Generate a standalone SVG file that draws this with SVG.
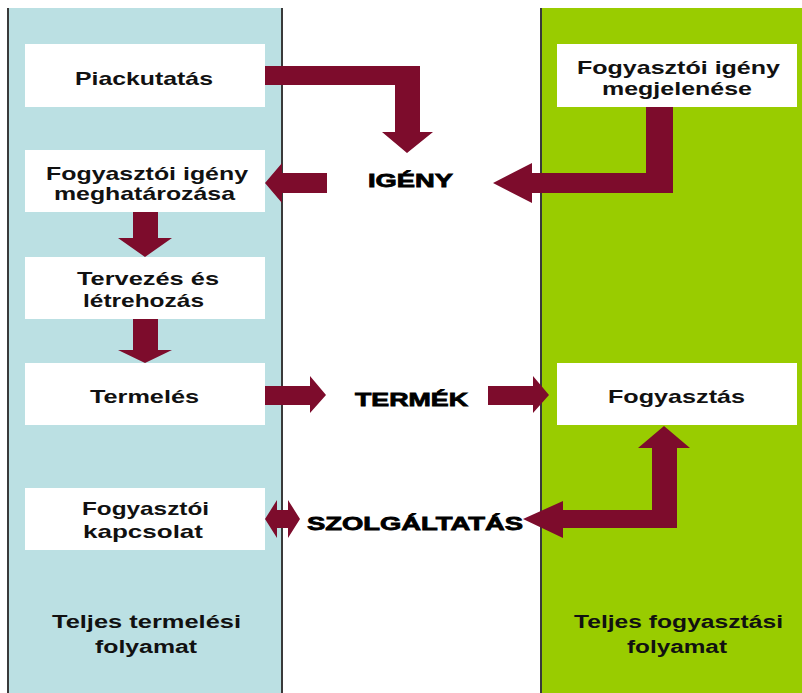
<svg xmlns="http://www.w3.org/2000/svg" width="802" height="693" viewBox="0 0 802 693">
<style>
.t{font-family:"Liberation Sans",Arial,sans-serif;font-weight:bold;font-size:19px;fill:#111}
.b{font-family:"Liberation Sans",Arial,sans-serif;font-weight:bold;font-size:18px;fill:#111}
.h{font-family:"Liberation Sans",Arial,sans-serif;font-weight:bold;font-size:19px;fill:#000;stroke:#000;stroke-width:0.8}
.box{fill:#fff}
.arr{fill:#7D0C2C}
.edge{stroke:#3a3a3a;stroke-width:2}
</style>
<rect width="802" height="693" fill="#fff"/>
<g id="panels">
<rect x="8" y="8" width="274" height="685" fill="#BBE0E3"/>
<rect x="541" y="8" width="261" height="685" fill="#99CC00"/>
<line class="edge" x1="8" y1="8" x2="8" y2="693"/>
<line class="edge" x1="282" y1="8" x2="282" y2="693"/>
<line class="edge" x1="541" y1="8" x2="541" y2="693"/>
</g>
<g id="piackutatas"><rect class="box" x="25" y="44" width="240" height="63"/>
<text class="t" x="75" y="85" textLength="138" lengthAdjust="spacingAndGlyphs">Piackutatás</text></g>
<g id="igeny-meghatarozasa"><rect class="box" x="25" y="150" width="240" height="62"/>
<text class="t" x="46" y="180" textLength="202" lengthAdjust="spacingAndGlyphs">Fogyasztói igény</text>
<text class="t" x="54" y="200" textLength="181" lengthAdjust="spacingAndGlyphs">meghatározása</text></g>
<g id="tervezes"><rect class="box" x="25" y="257" width="240" height="62"/>
<text class="t" x="77" y="285" textLength="142" lengthAdjust="spacingAndGlyphs">Tervezés és</text>
<text class="t" x="83" y="307" textLength="121" lengthAdjust="spacingAndGlyphs">létrehozás</text></g>
<g id="termeles"><rect class="box" x="25" y="363" width="240" height="62"/>
<text class="t" x="90" y="403" textLength="109" lengthAdjust="spacingAndGlyphs">Termelés</text></g>
<g id="kapcsolat"><rect class="box" x="25" y="488" width="240" height="62"/>
<text class="t" x="82" y="515" textLength="127" lengthAdjust="spacingAndGlyphs">Fogyasztói</text>
<text class="t" x="83" y="538" textLength="120" lengthAdjust="spacingAndGlyphs">kapcsolat</text></g>
<g id="igeny-megjelenese"><rect class="box" x="557" y="44" width="240" height="63"/>
<text class="t" x="577" y="74" textLength="203" lengthAdjust="spacingAndGlyphs">Fogyasztói igény</text>
<text class="t" x="602" y="95" textLength="150" lengthAdjust="spacingAndGlyphs">megjelenése</text></g>
<g id="fogyasztas"><rect class="box" x="557" y="363" width="240" height="62"/>
<text class="t" x="608" y="403" textLength="137" lengthAdjust="spacingAndGlyphs">Fogyasztás</text></g>
<g id="igeny"><text class="h" x="368" y="187" textLength="85" lengthAdjust="spacingAndGlyphs">IGÉNY</text></g>
<g id="termek"><text class="h" x="355" y="406" textLength="113" lengthAdjust="spacingAndGlyphs">TERMÉK</text></g>
<g id="szolgaltatas"><text class="h" x="307" y="530" textLength="216" lengthAdjust="spacingAndGlyphs">SZOLGÁLTATÁS</text></g>
<g id="label-termelesi"><text class="b" x="52" y="628" textLength="189" lengthAdjust="spacingAndGlyphs">Teljes termelési</text>
<text class="b" x="95" y="653" textLength="102" lengthAdjust="spacingAndGlyphs">folyamat</text></g>
<g id="label-fogyasztasi"><text class="b" x="574" y="628" textLength="209" lengthAdjust="spacingAndGlyphs">Teljes fogyasztási</text>
<text class="b" x="627" y="653" textLength="100" lengthAdjust="spacingAndGlyphs">folyamat</text></g>
<g id="connectors">
<polygon class="arr" points="265,66 420,66 420,132 433,132 407,153 382,132 395,132 395,85 265,85"/>
<polygon class="arr" points="327,173 282,173 282,163 265,183 282,203 282,193 327,193"/>
<polygon class="arr" points="646,107 673,107 673,193 532,193 532,203 493,183 532,163 532,173 646,173"/>
<polygon class="arr" points="133,212 158,212 158,238 172,238 145,257 118,238 133,238"/>
<polygon class="arr" points="133,319 158,319 158,350 172,350 145,363 118,350 133,350"/>
<polygon class="arr" points="265,386 310,386 310,376 326,395 310,413 310,405 265,405"/>
<polygon class="arr" points="488,386 533,386 533,376 549,395 533,413 533,405 488,405"/>
<polygon class="arr" points="265,519 277,500 277,510 288,510 288,500 300,519 288,538 288,528 277,528 277,538"/>
<polygon class="arr" points="664,426 690,448 677,448 677,528 563,528 563,538 523,519 563,501 563,510 652,510 652,448 638,448"/>
</g>
</svg>
